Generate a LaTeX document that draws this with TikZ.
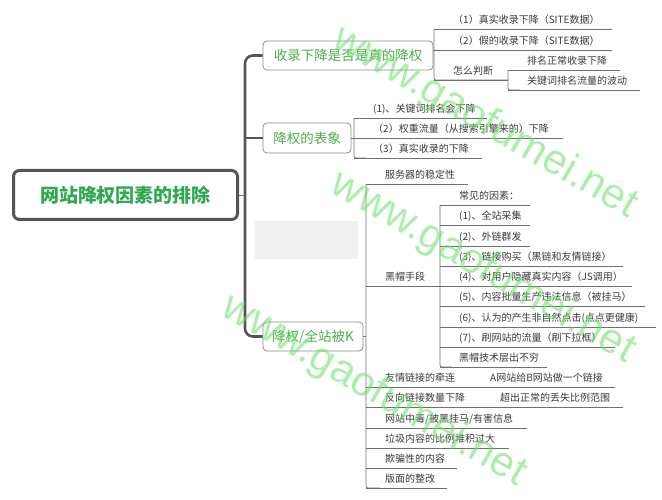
\documentclass[tikz,border=0pt]{standalone}
\usepackage{fontspec}
\setmainfont{Noto Sans CJK SC}
\newfontfamily\wmfont{Liberation Sans}
\definecolor{txtc}{HTML}{3A3A3A}
\definecolor{linec}{HTML}{707070}
\definecolor{boxc}{HTML}{8A8A8A}
\definecolor{rootc}{HTML}{555555}
\definecolor{grn}{HTML}{4CAE4C}
\definecolor{rootgrn}{HTML}{2FA84F}
\definecolor{spinec}{HTML}{555555}
\definecolor{greybox}{HTML}{F0F0F0}
\definecolor{wmc}{HTML}{66E066}
\newcommand\leafitem[5]{%
  \node[lf] (#1) at ({#2+19},{#3-9}) {#5};
  \draw[ul] (#2,#3) -- (#4,#3);
}
\begin{document}
\begin{tikzpicture}[x=1pt,y=-1pt,
  lf/.style={anchor=west, inner sep=0pt, font=\fontsize{10}{12}\selectfont, text=txtc},
  ul/.style={draw=linec, line width=0.7pt},
  brk/.style={draw=linec, line width=0.7pt, rounded corners=2pt},
  br/.style={draw=boxc, line width=0.8pt, rounded corners=4pt, fill=white, inner sep=0pt,
     font=\fontsize{13.5}{16}\selectfont, text=grn},
  spine/.style={draw=spinec, line width=2.6pt, rounded corners=8pt},
  wm/.style={font=\wmfont\fontsize{42}{48}\selectfont, text=wmc, opacity=0.55, rotate=-30, inner sep=0pt},
]
\useasboundingbox (0,0) rectangle (662,500);
\fill[greybox] (255,221) rectangle (358,259);

% root and branches
\node[draw=rootc, line width=3pt, rounded corners=6pt, minimum width=224pt, minimum height=49pt,
      inner sep=0pt, fill=white, text=rootgrn, font=\fontsize{19}{22}\selectfont\bfseries] (root) at (125.5,195) {网站降权因素的排除};
\node[br, minimum width=170pt, minimum height=29pt] (b1) at (348,55.5) {收录下降是否是真的降权};
\node[br, minimum width=88pt, minimum height=30pt] (b2) at (307,138) {降权的表象};
\node[br, minimum width=100pt, minimum height=29pt] (b3) at (313,336.5) {降权/全站被K};

\coordinate (sp) at (245,0);
\draw[spine] (b1.west) -- (b1.west -| sp) -- (b3.west -| sp) -- (b3.west);
\draw[draw=spinec, line width=2.2pt] (b2.west -| sp) -- (b2.west);
\draw[draw=linec, line width=0.8pt] (root.east) -- (root.east -| sp);

% branch 1
\draw[brk] (434,29) -- (434,80) -- (508,80);
\draw[brk] (508,70) -- (508,90) -- (520,90);
\leafitem{a1}{434}{29}{612}{（1）真实收录下降（SITE数据）}
\node[lf] (a2) at (453,41) {（2）假的收录下降（SITE数据）};
\draw[ul] (b1.east |- 0,50) -- (612,50);
\leafitem{a3}{434}{80}{508}{怎么判断}
\leafitem{a31}{508}{70}{620}{排名正常收录下降}
\leafitem{a32}{508}{90}{640}{关键词排名流量的波动}

% branch 2
\draw[brk] (354,118) -- (354,158) -- (366,158);
\leafitem{c1}{354}{118}{487}{(1)、关键词排名会下降}
\node[lf] (c2) at (373,129) {（2）权重流量（从搜索引擎来的）下降};
\draw[ul] (b2.east) -- (563,138);
\leafitem{c3}{354}{158}{482}{（3）真实收录的下降}

% branch 3
\draw[brk] (366,184) -- (366,488) -- (380,488);
\draw[ul] (b3.east) -- (366,336.5);
\leafitem{d1}{366}{184}{468}{服务器的稳定性}
\leafitem{d2}{366}{286}{440}{黑帽手段}
\draw[brk] (440,205) -- (440,367) -- (452,367);
\leafitem{e0}{440}{205}{530}{常见的因素：}
\leafitem{e1}{440}{225}{530}{(1)、全站采集}
\leafitem{e2}{440}{246}{530}{(2)、外链群发}
\leafitem{e3}{440}{266}{623}{(3)、链接购买（黑链和友情链接）}
\leafitem{e4}{440}{286}{632}{(4)、对用户隐藏真实内容（JS调用）}
\leafitem{e5}{440}{306}{645}{(5)、内容批量生产违法信息（被挂马）}
\leafitem{e6}{440}{327}{656}{(6)、认为的产生非自然点击(点点更健康)}
\leafitem{e7}{440}{347}{615}{(7)、刷网站的流量（刷下拉框）}
\leafitem{e8}{440}{367}{547}{黑帽技术层出不穷}
\leafitem{d3}{366}{387}{615}{友情链接的牵连}
\node[lf] (d3a) at (490,378) {A网站给B网站做一个链接};
\leafitem{d4}{366}{407}{623}{反向链接数量下降}
\node[lf] (d4a) at (500,398) {超出正常的丢失比例范围};
\leafitem{d5}{366}{428}{527}{网站中毒/被黑挂马/有害信息}
\leafitem{d6}{366}{448}{509}{垃圾内容的比例堆积过大}
\leafitem{d7}{366}{468}{457}{欺骗性的内容}
\leafitem{d8}{366}{488}{447}{版面的整改}

% watermark
\node[wm] (w1) at (485,123) {www.gaofumei.net};
\node[wm] (w2) at (483,268) {www.gaofumei.net};
\node[wm] (w3) at (374,391) {www.gaofumei.net};
\end{tikzpicture}
\end{document}
